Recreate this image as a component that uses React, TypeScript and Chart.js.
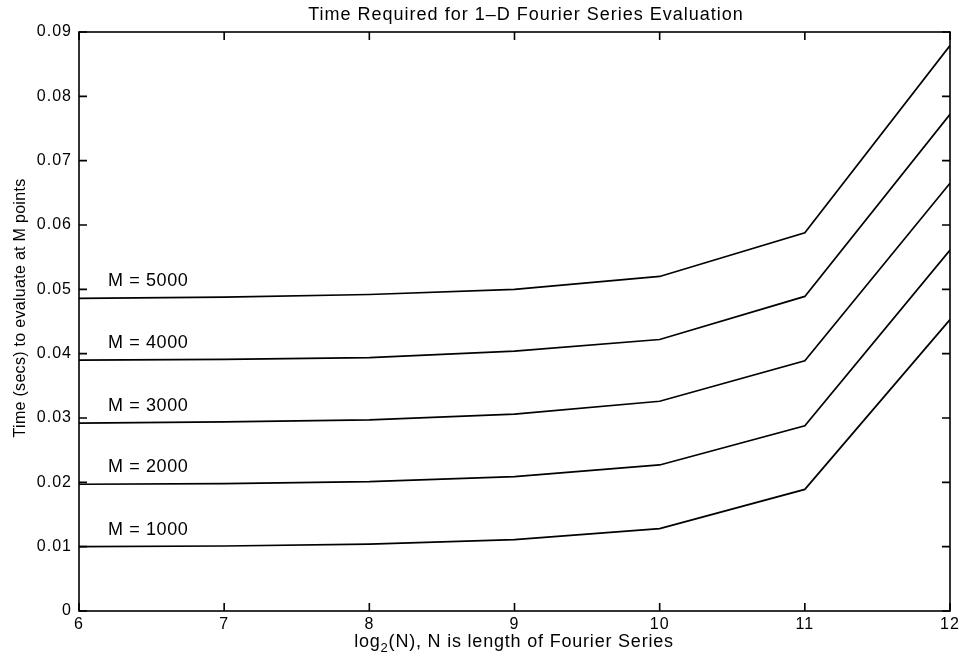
import React, { useEffect, useRef } from "react";
import { Chart, registerables } from "chart.js";

Chart.register(...registerables);

const xValues = [6, 7, 8, 9, 10, 11, 12];
const m1000 = [0.01, 0.0101, 0.0104, 0.0111, 0.0128, 0.0189, 0.0453];
const m2000 = [0.0197, 0.0198, 0.0201, 0.0209, 0.0227, 0.0288, 0.0561];
const m3000 = [0.0292, 0.0294, 0.0297, 0.0306, 0.0326, 0.0389, 0.0665];
const m4000 = [0.039, 0.0391, 0.0394, 0.0404, 0.0422, 0.0489, 0.0772];
const m5000 = [0.0486, 0.0488, 0.0492, 0.05, 0.052, 0.0588, 0.0879];
const seriesLabels = ["M = 1000", "M = 2000", "M = 3000", "M = 4000", "M = 5000"];
const allSeries = [m1000, m2000, m3000, m4000, m5000];
const xTicks = [6, 7, 8, 9, 10, 11, 12];
const yTicks = [0, 0.01, 0.02, 0.03, 0.04, 0.05, 0.06, 0.07, 0.08, 0.09];

const titleText = "Time Required for 1\u2013D Fourier Series Evaluation";
const yTitleText = "Time (secs) to evaluate at M points";

const FONT = "'Liberation Sans', Arial, Helvetica, sans-serif";

const spacing = {
  id: "spacing",
  beforeDraw(chart: any) {
    chart.ctx.letterSpacing = "1px";
  },
};

const overlay = {
  id: "overlay",
  afterDraw(chart: any) {
    const { ctx, chartArea } = chart;
    const xs = chart.scales.x;
    const ys = chart.scales.y;
    const { left, right, top, bottom } = chartArea;
    ctx.save();
    ctx.letterSpacing = "0px";
    ctx.strokeStyle = "#000";
    ctx.lineWidth = 1.6;
    ctx.strokeRect(left, top, right - left, bottom - top);
    const tl = 8;
    ctx.beginPath();
    xTicks.forEach((v) => {
      const px = xs.getPixelForValue(v);
      ctx.moveTo(px, bottom);
      ctx.lineTo(px, bottom - tl);
      ctx.moveTo(px, top);
      ctx.lineTo(px, top + tl);
    });
    yTicks.forEach((v) => {
      const py = ys.getPixelForValue(v);
      ctx.moveTo(left, py);
      ctx.lineTo(left + tl, py);
      ctx.moveTo(right, py);
      ctx.lineTo(right - tl, py);
    });
    ctx.stroke();

    ctx.fillStyle = "#000";
    // series labels
    ctx.letterSpacing = "0.6px";
    ctx.font = `18px ${FONT}`;
    ctx.textAlign = "left";
    ctx.textBaseline = "middle";
    allSeries.forEach((s, i) => {
      const px = xs.getPixelForValue(6.2);
      const py = ys.getPixelForValue(s[0]) - 17;
      ctx.fillText(seriesLabels[i], px, py);
    });

    // title
    ctx.letterSpacing = "1px";
    ctx.font = `18px ${FONT}`;
    ctx.textAlign = "center";
    ctx.fillText(titleText, 526, 15);

    // x title with subscript
    ctx.letterSpacing = "0.8px";
    ctx.textBaseline = "alphabetic";
    ctx.font = `18px ${FONT}`;
    const p1 = "log";
    const sub = "2";
    const p2 = "(N), N is length of Fourier Series";
    const w1 = ctx.measureText(p1).width;
    const w2 = ctx.measureText(p2).width;
    ctx.font = `13px ${FONT}`;
    const ws = ctx.measureText(sub).width;
    const total = w1 + ws + w2;
    const x0 = 514 - total / 2;
    const yBase = 647;
    ctx.textAlign = "left";
    ctx.font = `18px ${FONT}`;
    ctx.fillText(p1, x0, yBase);
    ctx.font = `13px ${FONT}`;
    ctx.fillText(sub, x0 + w1, yBase + 5);
    ctx.font = `18px ${FONT}`;
    ctx.fillText(p2, x0 + w1 + ws, yBase);

    // y title
    ctx.letterSpacing = "0.3px";
    ctx.textBaseline = "middle";
    ctx.translate(21, 308);
    ctx.rotate(-Math.PI / 2);
    ctx.textAlign = "center";
    ctx.font = `16px ${FONT}`;
    ctx.fillText(yTitleText, 0, 0);
    ctx.restore();
  },
};

export default function App() {
  const ref = useRef<HTMLCanvasElement | null>(null);
  useEffect(() => {
    document.body.style.margin = "0";
    const canvas = ref.current;
    if (!canvas) return;
    const chart = new Chart(canvas, {
      type: "line",
      data: {
        datasets: allSeries.map((s, i) => ({
          label: seriesLabels[i],
          data: xValues.map((x, j) => ({ x, y: s[j] })),
          borderColor: "#000",
          borderWidth: 1.7,
          pointRadius: 0,
          tension: 0,
          fill: false,
        })),
      },
      options: {
        responsive: false,
        animation: false,
        layout: { padding: { top: 32, right: 16, left: 0, bottom: 0 } },
        plugins: {
          legend: { display: false },
          title: { display: false },
          tooltip: { enabled: false },
        },
        scales: {
          x: {
            type: "linear",
            min: 6,
            max: 12,
            grid: { display: false, drawTicks: false },
            border: { display: false },
            afterBuildTicks: (s: any) => {
              s.ticks = xTicks.map((v) => ({ value: v }));
            },
            afterFit: (s: any) => {
              s.height = 49;
            },
            ticks: {
              color: "#000",
              padding: 4,
              maxRotation: 0,
              font: { family: FONT, size: 16 },
              callback: (v: any) => String(v),
            },
          },
          y: {
            type: "linear",
            min: 0,
            max: 0.09,
            grid: { display: false, drawTicks: false },
            border: { display: false },
            afterBuildTicks: (s: any) => {
              s.ticks = yTicks.map((v) => ({ value: v }));
            },
            afterFit: (s: any) => {
              s.width = 79;
            },
            ticks: {
              color: "#000",
              padding: 7,
              font: { family: FONT, size: 16 },
              callback: (v: any) => (Number(v) === 0 ? "0" : Number(v).toFixed(2)),
            },
          },
        },
      },
      plugins: [spacing, overlay],
    });
    return () => chart.destroy();
  }, []);
  return (
    <div style={{ width: 966, height: 660, background: "#fff" }}>
      <canvas ref={ref} width={966} height={660} style={{ display: "block" }} />
    </div>
  );
}
